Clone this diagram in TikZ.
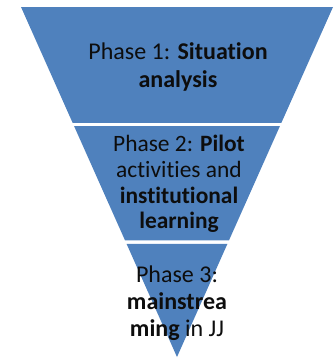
\documentclass[tikz,border=0pt]{standalone}
\usepackage{fontspec}
\setmainfont{Carlito}[Ligatures=NoCommon]
\usetikzlibrary{calc}
\definecolor{phaseblue}{RGB}{79,129,189}
\tikzstyle{band} = [fill=phaseblue, draw=none]
\tikzset{
 ph/.style
  = {align=center, text=black!95, inner sep=0pt},
}

\begin{document}
\begin{tikzpicture}[x=0.03cm, y=-0.03cm]
\useasboundingbox (0,0) rectangle (334,358);
\coordinate (tl) at (21,7);
\coordinate (tr) at (333,7);
\coordinate (apex) at (177,357);
% three bands of the funnel, white gaps in between
\fill [band] (tl) -- (tr) -- ($(tr)!0.331!(apex)$) -- ($(tl)!0.331!(apex)$) -- cycle;
\fill [band] ($(tl)!0.340!(apex)$) -- ($(tr)!0.340!(apex)$) -- ($(tr)!0.667!(apex)$) -- ($(tl)!0.667!(apex)$) -- cycle;
\fill [band] ($(tl)!0.677!(apex)$) -- ($(tr)!0.677!(apex)$) -- (apex) -- cycle;
\node (phaseone) [ph, font=\fontsize{20.5}{24.5}\selectfont] at (178,67)
  {Phase 1: \textbf{Situation}\\\textbf{analysis}};
\node (phasetwo) [ph, font=\fontsize{20}{22}\selectfont] at (179,184)
  {Phase 2: \textbf{Pilot}\\activities and\\\textbf{institutional}\\\textbf{learning}};
\node (phasethree) [ph, font=\fontsize{20.5}{23}\selectfont] at (177,303.5)
  {Phase 3:\\\textbf{mainstrea}\\\textbf{ming} in JJ};
\end{tikzpicture}
\end{document}
